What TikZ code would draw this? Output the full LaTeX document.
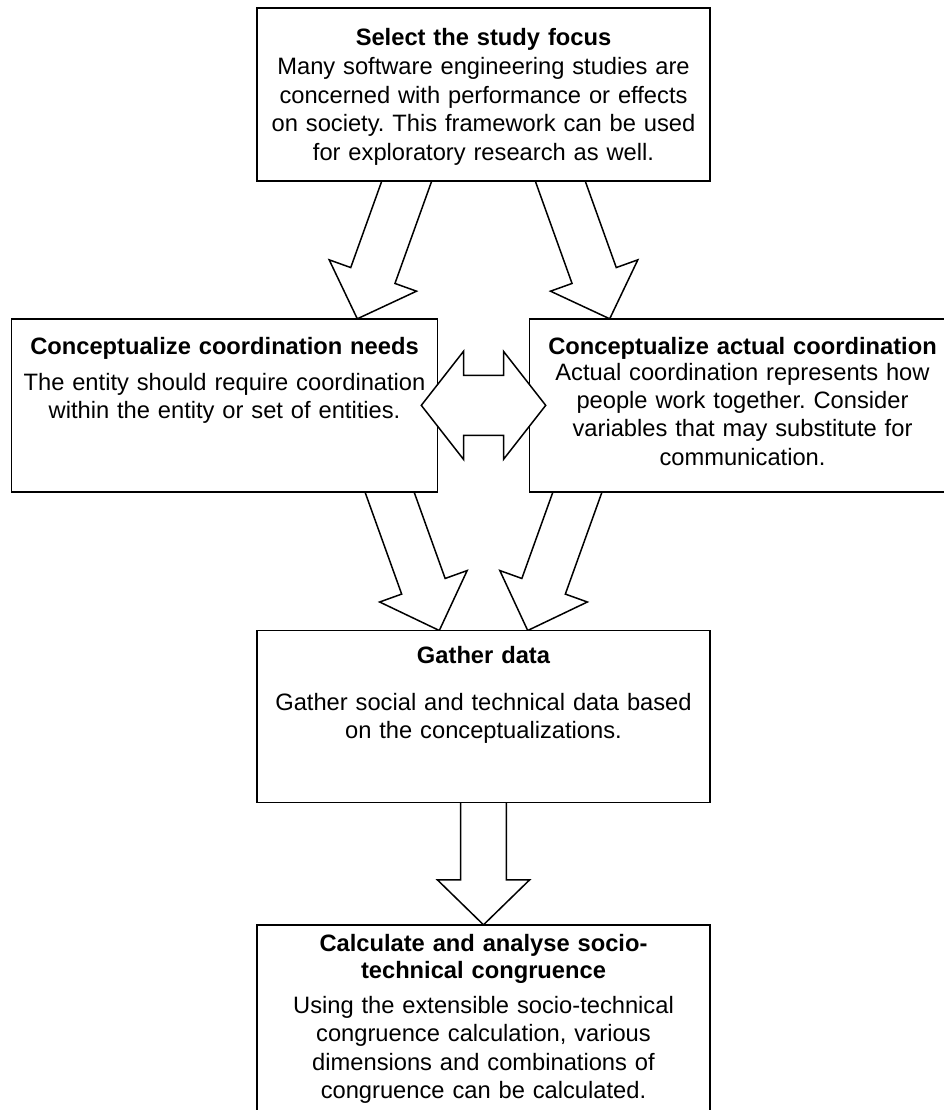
\documentclass[tikz,border=0pt]{standalone}
\usepackage{fontspec}
\setmainfont{Liberation Sans}
\usetikzlibrary{calc}
\frenchspacing

\newcommand\bodyfont{\fontsize{23.7pt}{28.4pt}\selectfont}
\newcommand\headfont{\fontsize{23.7pt}{26.6pt}\selectfont\bfseries}

% block arrow: #1 tail (on source edge), #2 tip, #3 shaft half width,
% #4 head half width, #5 head length, #6 name prefix
\newcommand\blockarrow[6]{%
  \coordinate (#6-b) at ($(#2)!#5!(#1)$);
  \coordinate (#6-t) at ($(#1)!-26pt!(#2)$);
  \draw[barrow]
    ($(#6-t)!#3!90:(#2)$) -- ($(#6-b)!#3!90:(#2)$) -- ($(#6-b)!#4!90:(#2)$)
    -- (#2)
    -- ($(#6-b)!#4!-90:(#2)$) -- ($(#6-b)!#3!-90:(#2)$) -- ($(#6-t)!#3!-90:(#2)$)
    -- cycle;
}

\tikzset{
  stepbox/.style={draw, line width=1.5pt, fill=white, inner sep=0pt},
  barrow/.style={draw, line width=1.5pt, fill=white, line join=miter},
  head/.style={text width=#1, align=center, inner sep=0pt, anchor=base, font=\headfont},
  body/.style={text width=#1, align=center, inner sep=0pt, anchor=base, font=\bodyfont},
}

\begin{document}
\begin{tikzpicture}[x=1pt, y=-1pt]
\useasboundingbox (0,0) rectangle (944,1110);
\clip (0,0) rectangle (944,1110);
\fill[white] (0,0) rectangle (944,1110);

% boxes (positions only, drawn later on top of arrow tails)
\path
  (483.5,94.5)   node[minimum width=453pt, minimum height=173pt, inner sep=0pt] (focus) {}
  (224.5,405.35) node[minimum width=425.6pt, minimum height=172.7pt, inner sep=0pt] (needs) {}
  (742.5,405.35) node[minimum width=425.6pt, minimum height=172.7pt, inner sep=0pt] (actual) {}
  (483.5,716.5)  node[minimum width=453pt, minimum height=171.6pt, inner sep=0pt] (gather) {}
  (483.5,1025)   node[minimum width=453pt, minimum height=200pt, inner sep=0pt] (congr) {};

% arrows between the stages
\blockarrow{$(focus.south)+(-76.8,0)$}{$(needs.north)+(132.8,0)$}{23.5pt}{46.4pt}{46pt}{a1}
\blockarrow{$(focus.south)+(76.8,0)$}{$(actual.north)+(-132.8,0)$}{23.5pt}{46.4pt}{46pt}{a2}
\blockarrow{$(needs.south)+(165,0)$}{$(gather.north)+(-44.2,0)$}{23.1pt}{46.5pt}{47pt}{a3}
\blockarrow{$(actual.south)+(-165,0)$}{$(gather.north)+(44.2,0)$}{23.1pt}{46.5pt}{47pt}{a4}
\blockarrow{gather.south}{congr.north}{22.85pt}{46.15pt}{45pt}{a5}

% box outlines
\foreach \b in {focus,needs,actual,gather,congr}
  \draw[stepbox] (\b.north west) rectangle (\b.south east);

% two-way arrow between the two conceptualisations
\coordinate (mid) at ($(needs.east)!0.5!(actual.west)$);
\draw[barrow] ([shift={(-62.2,0)}]mid) -- ++(42.2,-54) -- ++(0,24) -- ++(40,0)
  -- ++(0,-24) -- ++(42.2,54) -- ++(-42.2,54) -- ++(0,-24) -- ++(-40,0)
  -- ++(0,24) -- cycle;

% texts
\node[head=440pt] (focusT) at (483.5,46) {Select the study focus};
\node[body=450pt] (focusB) at (483.5,75) {Many software engineering studies are\\
  concerned with performance or effects\\ on society. This framework can be used\\
  for exploratory research as well.};

\node[head=420pt] (needsT) at (224.5,354) {Conceptualize coordination needs};
\node[body=420pt] (needsB) at (224.5,390) {The entity should require coordination\\
  within the entity or set of entities.};

\node[head=420pt] (actualT) at (742.5,354) {Conceptualize actual coordination};
\node[body=420pt] (actualB) at (742.5,380) {Actual coordination represents how\\
  people work together. Consider\\ variables that may substitute for\\ communication.};

\node[head=440pt] (gatherT) at (483.5,663.3) {Gather data};
\node[body=450pt] (gatherB) at (483.5,710) {Gather social and technical data based\\
  on the conceptualizations.};

\node[head=440pt] (congrT) at (483.5,951.7) {Calculate and analyse socio-\\technical congruence};
\node[body=450pt] (congrB) at (483.5,1013.3) {Using the extensible socio-technical\\
  congruence calculation, various\\ dimensions and combinations of\\ congruence can be calculated.};
\end{tikzpicture}
\end{document}
